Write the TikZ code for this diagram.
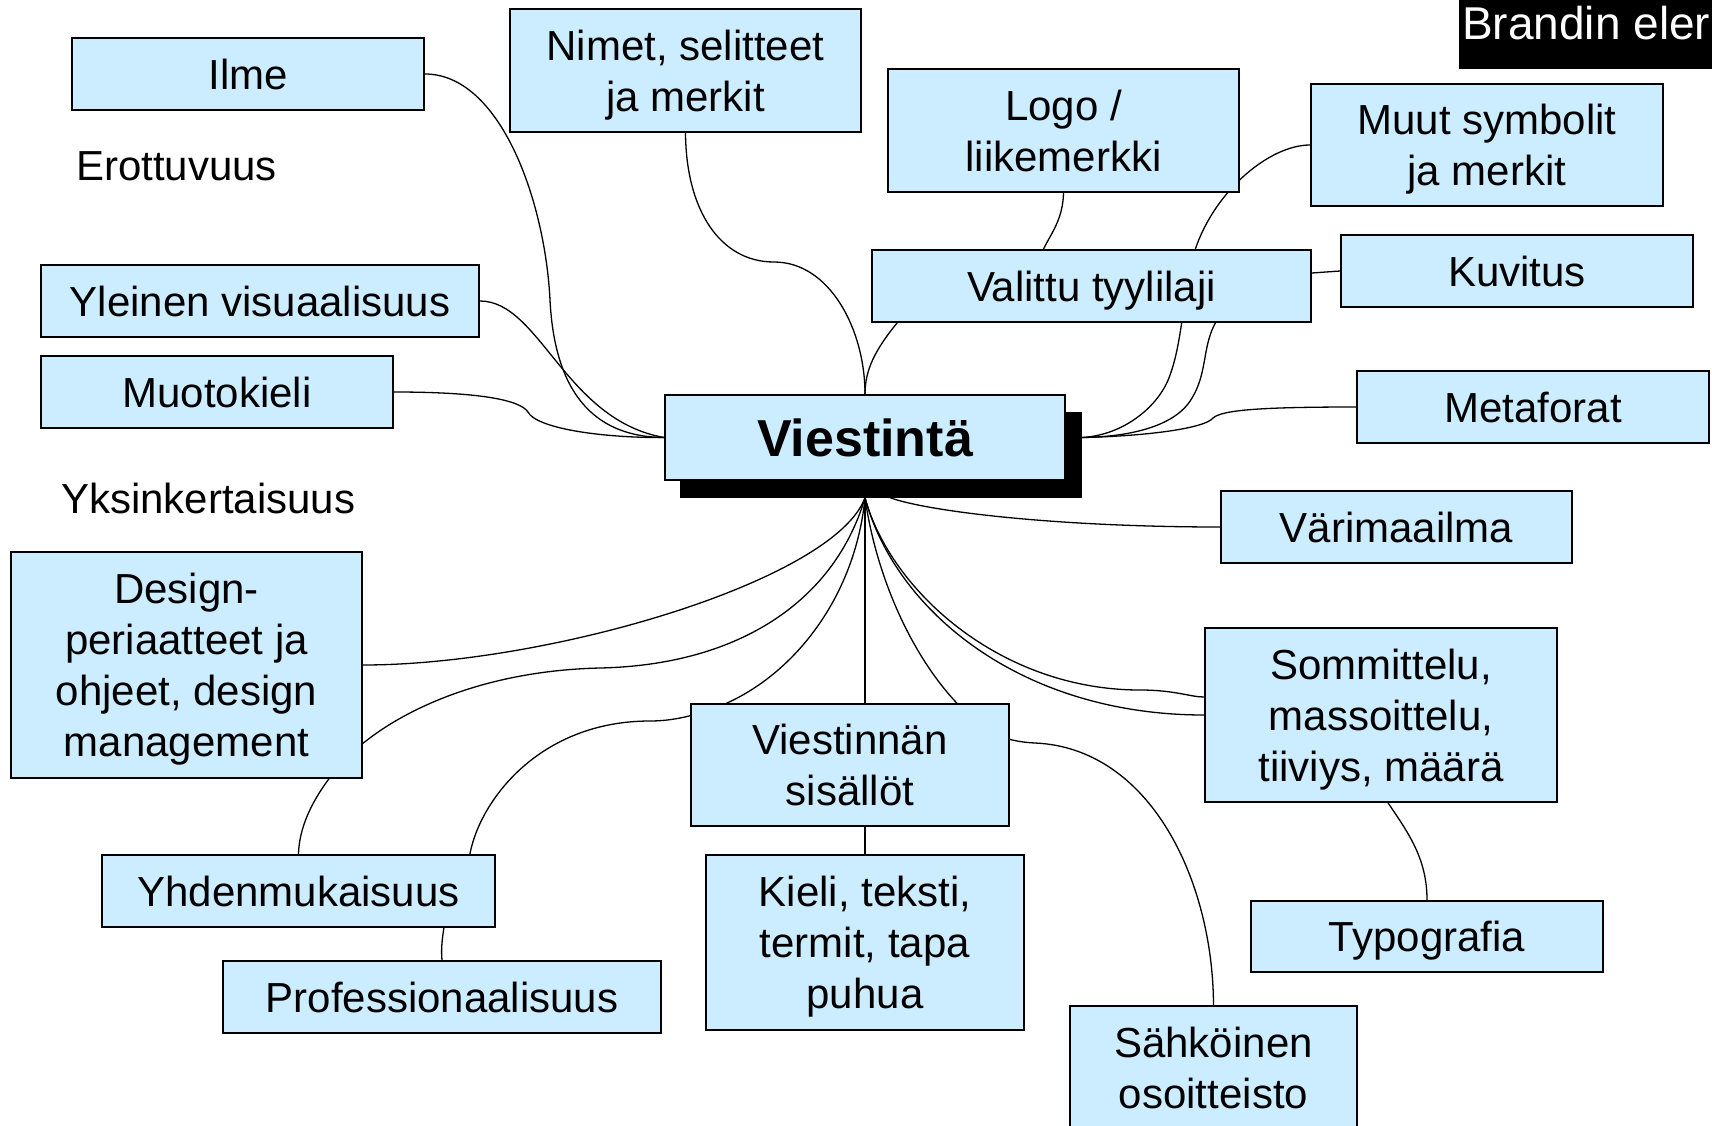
\documentclass[tikz,border=0pt]{standalone}
\usepackage{fontspec}
\setmainfont{Liberation Sans}
\usetikzlibrary{calc,backgrounds}
\definecolor{boxblue}{HTML}{CCECFF}
\begin{document}
\begin{tikzpicture}[x=1pt,y=-1pt,
  box/.style={draw=black, line width=1.8pt, fill=boxblue, inner sep=0pt, align=center, text depth=0pt, font=\fontsize{42}{51}\selectfont},
  conn/.style={draw=black, line width=1.3pt},
  plain/.style={inner sep=0pt, anchor=west, font=\fontsize{42}{51}\selectfont}]
\useasboundingbox (0,0) rectangle (1712,1126);
\clip (0,0) rectangle (1712,1126);

% title box
\node[fill=black, minimum width=253, minimum height=69, inner sep=0pt, anchor=north west] (brand) at (1459,0) {};
\node[anchor=base west, text=white, inner sep=0pt, font=\fontsize{46}{50}\selectfont] (brandtxt) at (1462,40) {Brandin eler};

% plain labels
\node[plain] (erot) at (76,166) {Erottuvuus};
\node[plain] (yks) at (61,498) {Yksinkertaisuus};

% boxes
\node[box, minimum width=352, minimum height=72] (ilme) at (248,74) {Ilme};
\node[box, minimum width=351, minimum height=123] (nimet) at (685.5,70.5) {Nimet, selitteet\\ja merkit};
\node[box, minimum width=351, minimum height=123] (logo) at (1063.5,130.5) {Logo /\\liikemerkki};
\node[box, minimum width=352, minimum height=122] (muut) at (1487,145) {Muut symbolit\\ja merkit};
\node[box, minimum width=439, minimum height=72] (val) at (1091.5,286) {Valittu tyylilaji};
\node[box, minimum width=352, minimum height=72] (kuv) at (1517,271) {Kuvitus};
\node[box, minimum width=438, minimum height=72] (yv) at (260,301) {Yleinen visuaalisuus};
\node[box, minimum width=352, minimum height=72] (mk) at (217,392) {Muotokieli};
\node[fill=black, minimum width=402, minimum height=86, inner sep=0pt] (vish) at (881,454.5) {};
\node[box, minimum width=400, minimum height=85, font=\bfseries\fontsize{52}{60}\selectfont] (vi) at (865,437.5) {Viestintä};
\node[box, minimum width=352, minimum height=72] (meta) at (1533,407) {Metaforat};
\node[box, minimum width=351, minimum height=72] (var) at (1396.5,527) {Värimaailma};
\node[box, minimum width=351, minimum height=226] (design) at (186.5,665) {Design-\\periaatteet ja\\ohjeet, design\\management};
\node[box, minimum width=352, minimum height=174] (somm) at (1381,715) {Sommittelu,\\massoittelu,\\tiiviys, määrä};
\node[box, minimum width=318, minimum height=122] (vsis) at (850,765) {Viestinnän\\sisällöt};
\node[box, minimum width=393, minimum height=72] (yhd) at (298.5,891) {Yhdenmukaisuus};
\node[box, minimum width=318, minimum height=175] (kieli) at (865,942.5) {Kieli, teksti,\\termit, tapa\\puhua};
\node[box, minimum width=352, minimum height=71] (typo) at (1427,936.5) {Typografia};
\node[box, minimum width=438, minimum height=72] (prof) at (442,997) {Professionaalisuus};
\node[box, minimum width=287, minimum height=124] (sah) at (1213.5,1068) {Sähköinen\\osoitteisto};

\coordinate (cr) at (vi.east -| vish.east);
\coordinate (cb) at (vi.center |- vish.south);

\begin{scope}[on background layer]
% left side into Viestintä
\draw[conn] (ilme.east) .. controls (500,74) and (545,200) .. (550,300) .. controls (555,400) and (600,437) .. (vi.west);
\draw[conn] (yv.east) .. controls (540,301) and (565,420) .. (vi.west);
\draw[conn] (mk.east) .. controls (480,392) and (520,400) .. (528,412) .. controls (536,428) and (600,438) .. (vi.west);
% top
\draw[conn] (nimet.south) .. controls (686,210) and (720,262) .. (774,262) .. controls (830,262) and (865,330) .. (vi.north);
\draw[conn] ($(val.south west)+(26,0)$) .. controls (875,350) and (865,370) .. (vi.north);
\draw[conn] (logo.south) .. controls (1063,220) and (1050,235) .. ($(val.north)+(-48,0)$);
% right side
\draw[conn] (muut.west) .. controls (1270,145) and (1215,190) .. (1195,250) .. controls (1183,290) and (1183,340) .. (1170,375) .. controls (1160,405) and (1125,435) .. (cr);
\draw[conn] (kuv.west) -- (1312,273) .. controls (1250,275) and (1225,300) .. (1212,330) .. controls (1203,352) and (1206,375) .. (1192,398) .. controls (1175,428) and (1125,437) .. (cr);
\draw[conn] (meta.west) .. controls (1260,407) and (1222,410) .. (1213,418) .. controls (1205,428) and (1150,436) .. (cr);
% bottom fan
\draw[conn] (var.west) .. controls (1060,527) and (930,512) .. ($(cb)+(25,0)$);
\draw[conn] (cb) .. controls (890,590) and (1000,690) .. (1140,690) .. controls (1175,690) and (1190,697) .. ($(somm.west)+(0,-18)$);
\draw[conn] (cb) .. controls (895,610) and (1020,715) .. (somm.west);
\draw[conn] (cb) -- (kieli.north);
\draw[conn] (cb) .. controls (878,590) and (925,685) .. (985,728) .. controls (1000,738) and (1015,742) .. (1035,743) .. controls (1150,748) and (1213,880) .. (sah.north);
\draw[conn] (cb) .. controls (855,600) and (790,680) .. (715,708) .. controls (690,717) and (670,721) .. (650,721) .. controls (540,721) and (480,800) .. ($(yhd.north east)+(-26,0)$);
\draw[conn] (design.east) .. controls (550,665) and (835,580) .. (cb);
\draw[conn] (cb) .. controls (835,600) and (740,665) .. (600,668) .. controls (470,671) and (380,720) .. (340,765) .. controls (310,800) and (299,830) .. (yhd.north);
% small links
\draw[conn] ($(yhd.south east)+(-52,0)$) .. controls (442,940) and (441,950) .. (prof.north);
\draw[conn] ($(somm.south)+(7,0)$) .. controls (1410,835) and (1427,860) .. (typo.north);
\end{scope}
\end{tikzpicture}
\end{document}
